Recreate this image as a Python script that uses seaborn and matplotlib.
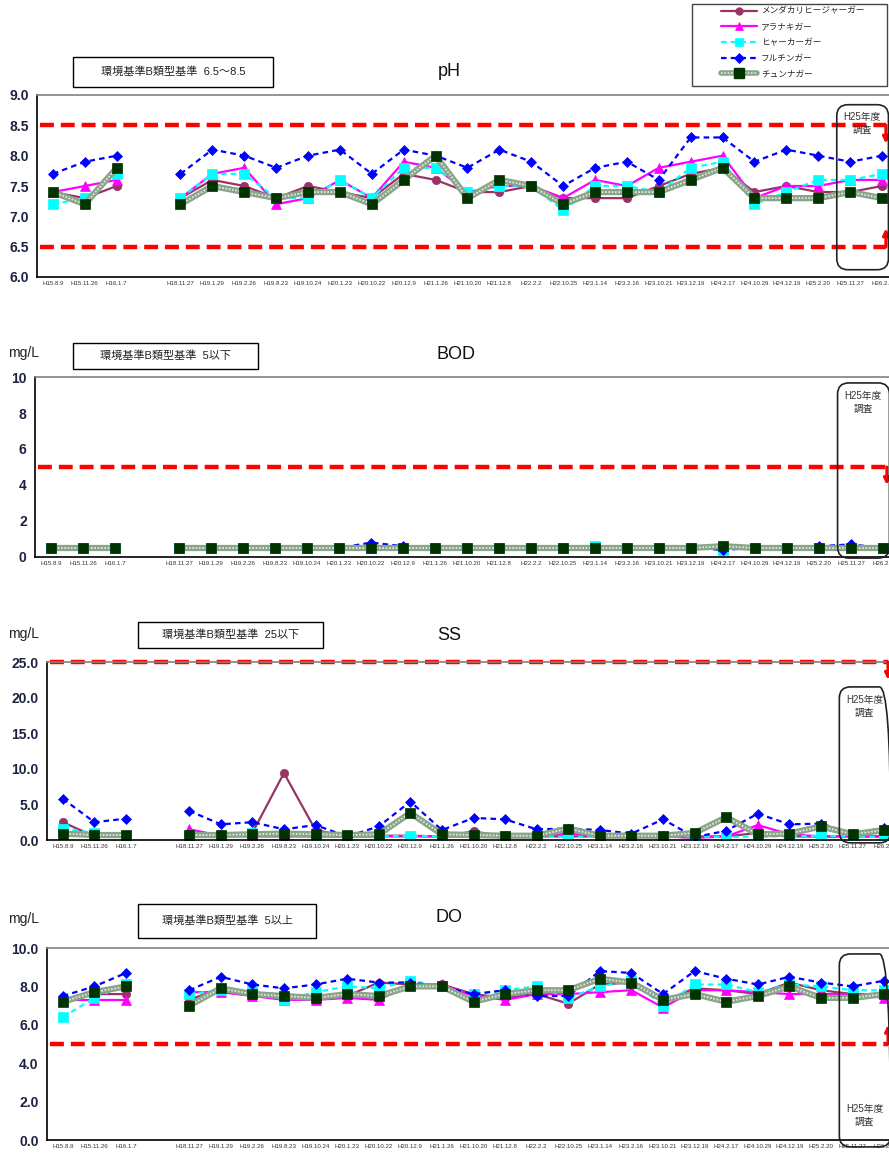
import numpy as np
import pandas as pd
import matplotlib
matplotlib.use("Agg")
import matplotlib.pyplot as plt
import matplotlib.transforms as mtransforms
from matplotlib.patches import Rectangle, FancyBboxPatch
from matplotlib.lines import Line2D
import seaborn as sns

sns.set_theme(style="white")
plt.rcParams["font.family"] = ["Liberation Sans", "Noto Sans CJK JP", "DejaVu Sans"]
plt.rcParams["lines.scale_dashes"] = False

# ---------------------------------------------------------------- data
DATES = ["H15.8.9", "H15.11.26", "H16.1.7", "",
         "H18.11.27", "H19.1.29", "H19.2.26", "H19.8.23", "H19.10.24",
         "H20.1.23", "H20.10.22", "H20.12.9", "H21.1.26", "H21.10.20",
         "H21.12.8", "H22.2.2", "H22.10.25", "H23.1.14", "H23.2.16",
         "H23.10.21", "H23.12.19", "H24.2.17", "H24.10.29", "H24.12.19",
         "H25.2.20", "H25.11.27", "H26.2.6"]

SITES = ["メンダカリヒージャーガー", "アラナキガー", "ヒャーカーガー", "フルチンガー", "チュンナガー"]

ph_mendakari = [7.4, 7.3, 7.5, None, 7.3, 7.6, 7.5, 7.3, 7.5, 7.4, 7.3, 7.7, 7.6, 7.4, 7.4, 7.5, 7.3, 7.3, 7.3, 7.5, 7.7, 7.8, 7.4, 7.5, 7.4, 7.4, 7.5]
ph_aranaki = [7.4, 7.5, 7.6, None, 7.3, 7.7, 7.8, 7.2, 7.3, 7.6, 7.3, 7.9, 7.8, 7.4, 7.5, 7.5, 7.3, 7.6, 7.5, 7.8, 7.9, 8.0, 7.3, 7.5, 7.5, 7.6, 7.6]
ph_hyaka = [7.2, 7.3, 7.7, None, 7.3, 7.7, 7.7, 7.3, 7.3, 7.6, 7.3, 7.8, 7.8, 7.4, 7.5, 7.5, 7.1, 7.5, 7.5, 7.4, 7.8, 7.9, 7.2, 7.4, 7.6, 7.6, 7.7]
ph_fulchin = [7.7, 7.9, 8.0, None, 7.7, 8.1, 8.0, 7.8, 8.0, 8.1, 7.7, 8.1, 8.0, 7.8, 8.1, 7.9, 7.5, 7.8, 7.9, 7.6, 8.3, 8.3, 7.9, 8.1, 8.0, 7.9, 8.0]
ph_chunnaga = [7.4, 7.2, 7.8, None, 7.2, 7.5, 7.4, 7.3, 7.4, 7.4, 7.2, 7.6, 8.0, 7.3, 7.6, 7.5, 7.2, 7.4, 7.4, 7.4, 7.6, 7.8, 7.3, 7.3, 7.3, 7.4, 7.3]

bod_mendakari = [0.5, 0.5, 0.5, None, 0.5, 0.5, 0.5, 0.5, 0.5, 0.5, 0.5, 0.5, 0.5, 0.5, 0.5, 0.5, 0.5, 0.5, 0.5, 0.5, 0.5, 0.5, 0.5, 0.5, 0.5, 0.5, 0.5]
bod_aranaki = [0.5, 0.5, 0.5, None, 0.5, 0.5, 0.5, 0.5, 0.5, 0.5, 0.5, 0.5, 0.5, 0.5, 0.5, 0.5, 0.5, 0.5, 0.5, 0.5, 0.5, 0.5, 0.5, 0.5, 0.5, 0.5, 0.5]
bod_hyaka = [0.5, 0.5, 0.5, None, 0.5, 0.5, 0.5, 0.5, 0.5, 0.5, 0.5, 0.5, 0.5, 0.5, 0.5, 0.5, 0.5, 0.6, 0.5, 0.5, 0.5, 0.4, 0.5, 0.5, 0.5, 0.5, 0.5]
bod_fulchin = [0.5, 0.5, 0.5, None, 0.5, 0.5, 0.5, 0.5, 0.5, 0.5, 0.8, 0.6, 0.5, 0.5, 0.5, 0.5, 0.5, 0.5, 0.5, 0.5, 0.5, 0.4, 0.5, 0.5, 0.6, 0.7, 0.5]
bod_chunnaga = [0.5, 0.5, 0.5, None, 0.5, 0.5, 0.5, 0.5, 0.5, 0.5, 0.5, 0.5, 0.5, 0.5, 0.5, 0.5, 0.5, 0.5, 0.5, 0.5, 0.5, 0.6, 0.5, 0.5, 0.5, 0.5, 0.5]

ss_mendakari = [2.5, 0.5, 0.5, None, 0.8, 0.8, 1.0, 9.4, 1.4, 0.5, 0.6, 0.6, 0.5, 1.2, 0.5, 0.5, 0.5, 0.5, 0.5, 0.5, 0.5, 0.5, 1.0, 0.5, 0.5, 0.5, 0.5]
ss_aranaki = [0.8, 0.5, 0.5, None, 1.5, 0.6, 0.5, 0.5, 0.5, 0.5, 0.5, 0.5, 0.5, 0.5, 0.5, 0.5, 0.9, 0.5, 0.5, 0.5, 0.3, 0.5, 2.1, 0.8, 0.5, 0.5, 0.5]
ss_hyaka = [1.6, 1.0, 0.5, None, 0.5, 0.5, 1.0, 0.9, 0.5, 0.5, 0.5, 0.6, 0.5, 0.5, 0.5, 0.5, 0.4, 0.5, 0.5, 0.5, 0.5, 0.4, 0.5, 0.5, 0.6, 0.5, 0.4]
ss_fulchin = [5.8, 2.5, 3.0, None, 4.1, 2.2, 2.5, 1.5, 2.1, 0.5, 1.9, 5.4, 1.4, 3.1, 2.9, 1.5, 1.6, 1.4, 0.9, 2.9, 0.4, 1.3, 3.7, 2.2, 2.3, 0.9, 1.7]
ss_chunnaga = [0.9, 0.7, 0.7, None, 0.7, 0.7, 0.8, 0.9, 0.8, 0.7, 0.8, 3.8, 0.8, 0.7, 0.6, 0.6, 1.6, 0.6, 0.6, 0.6, 1.0, 3.2, 0.8, 0.9, 1.9, 0.8, 1.4]

do_mendakari = [7.3, 7.6, 7.6, None, 7.3, 7.9, 7.5, 7.4, 7.4, 7.5, 8.2, 8.1, 8.1, 7.6, 7.4, 7.6, 7.1, 8.1, 8.2, 7.2, 7.9, 7.8, 7.6, 8.2, 7.8, 7.6, 7.6]
do_aranaki = [7.3, 7.3, 7.3, None, 7.7, 7.7, 7.5, 7.3, 7.3, 7.4, 7.3, 8.1, 8.1, 7.5, 7.3, 7.6, 7.6, 7.7, 7.8, 6.9, 7.8, 7.8, 7.7, 7.6, 7.6, 7.6, 7.4]
do_hyaka = [6.4, 7.4, 8.1, None, 7.6, 7.8, 7.8, 7.3, 7.7, 8.0, 7.9, 8.3, 8.0, 7.6, 7.8, 8.0, 7.4, 8.0, 8.3, 7.0, 8.1, 8.1, 7.7, 8.1, 8.0, 7.8, 7.8]
do_fulchin = [7.5, 8.0, 8.7, None, 7.8, 8.5, 8.1, 7.9, 8.1, 8.4, 8.2, 8.2, 8.0, 7.6, 7.8, 7.5, 7.5, 8.8, 8.7, 7.6, 8.8, 8.4, 8.1, 8.5, 8.2, 8.0, 8.3]
do_chunnaga = [7.2, 7.7, 8.0, None, 7.0, 7.9, 7.6, 7.5, 7.4, 7.6, 7.5, 8.0, 8.0, 7.2, 7.6, 7.8, 7.8, 8.4, 8.2, 7.3, 7.6, 7.2, 7.5, 8.0, 7.4, 7.4, 7.6]

# ---------------------------------------------------------------- styles
W, H = 889, 1155
TICK_COLOR = "#1c2340"
GREEN_BASE = "#8aa48a"
GREEN_HATCH = "#e2eae2"
GREEN_MARK = "#003300"

LINE_STYLES = {
    SITES[0]: dict(color="#993366", marker="o", markersize=6, linestyle="-", linewidth=1.6),
    SITES[1]: dict(color="#FF00FF", marker="^", markersize=6.5, linestyle="-", linewidth=1.6),
    SITES[2]: dict(color="#00FFFF", marker="s", markersize=6.5, linestyle=(0, (4, 3)), linewidth=1.6),
    SITES[3]: dict(color="#0000FF", marker="D", markersize=5.5, linestyle=(0, (4, 3)), linewidth=1.6),
}

fig = plt.figure(figsize=(W / 100, H / 100), dpi=100)


def fpos(x, y):
    return x / W, 1 - y / H


def add_axes_px(left, top, right, bottom):
    return fig.add_axes([left / W, 1 - bottom / H, (right - left) / W, (bottom - top) / H])


def series_frame(vals):
    rows, seg = [], 0
    for i, v in enumerate(vals):
        if v is None:
            seg += 1
            continue
        rows.append((i, v, seg))
    return pd.DataFrame(rows, columns=["pos", "val", "seg"])


def draw_site(ax, name, vals):
    df = series_frame(vals)
    common = dict(data=df, x="pos", y="val", units="seg", estimator=None,
                  sort=False, ax=ax, legend=False)
    if name in LINE_STYLES:
        st = LINE_STYLES[name]
        sns.lineplot(markeredgecolor=st["color"], markeredgewidth=0.5, **st, **common)
    else:
        sns.lineplot(color=GREEN_BASE, linewidth=4.5, **common)
        sns.lineplot(color=GREEN_HATCH, linewidth=1.3, linestyle=(0, (1.2, 1.2)), **common)
        sns.lineplot(color=GREEN_MARK, marker="s", markersize=7.5, linestyle="none",
                     markeredgecolor=GREEN_MARK, markeredgewidth=0.5, **common)


def standard_box(x0, y0, x1, y1, text):
    fig.patches.append(Rectangle(fpos(x0, y1), (x1 - x0) / W, (y1 - y0) / H,
                                 transform=fig.transFigure, fill=True, facecolor="white",
                                 edgecolor="black", linewidth=1.0))
    fig.text(*fpos((x0 + x1) / 2, (y0 + y1) / 2), text, ha="center", va="center",
             fontsize=8, color="#222222")


PANELS = [
    dict(name="pH", data=[ph_mendakari, ph_aranaki, ph_hyaka, ph_fulchin, ph_chunnaga],
         rect=(37, 95, 898, 277), ylim=(6.0, 9.0), yticks=np.arange(6.0, 9.01, 0.5), fmt="{:.1f}",
         limits=[(8.5, -0.3), (6.5, 0.3)], std=(73, 57, 273, 87, "環境基準B類型基準  6.5～8.5"),
         title=(449, 72), unit=None, box=(6.12, 8.84), h25=8.72),
    dict(name="BOD", data=[bod_mendakari, bod_aranaki, bod_hyaka, bod_fulchin, bod_chunnaga],
         rect=(35, 377, 899, 557), ylim=(0, 10), yticks=np.arange(0, 11, 2), fmt="{:.0f}",
         limits=[(5.0, -1.0)], std=(73, 343, 258, 369, "環境基準B類型基準  5以下"),
         title=(456, 355), unit=(24, 353), box=(-0.06, 9.67), h25=9.2),
    dict(name="SS", data=[ss_mendakari, ss_aranaki, ss_hyaka, ss_fulchin, ss_chunnaga],
         rect=(47, 662, 900, 840), ylim=(0, 25), yticks=np.arange(0, 25.1, 5), fmt="{:.1f}",
         limits=[(25.0, -2.5)], std=(138, 622, 323, 648, "環境基準B類型基準  25以下"),
         title=(449, 635), unit=(24, 634), box=(-0.4, 21.5), h25=20.3),
    dict(name="DO", data=[do_mendakari, do_aranaki, do_hyaka, do_fulchin, do_chunnaga],
         rect=(47, 948, 900, 1140), ylim=(0, 10), yticks=np.arange(0, 10.1, 2), fmt="{:.1f}",
         limits=[(5.0, 1.0)], std=(138, 904, 316, 938, "環境基準B類型基準  5以上"),
         title=(449, 918), unit=(24, 919), box=(-0.36, 9.69), h25=1.85),
]

for p in PANELS:
    ax = add_axes_px(*p["rect"])
    ax.set_xlim(-0.5, 26.5)
    ax.set_ylim(*p["ylim"])

    # environmental standard limits with turn arrows at the right edge
    for y, dy in p["limits"]:
        ax.plot([-0.42, 26.12], [y, y], color="#FF0000", linewidth=3.2,
                linestyle=(0, (10, 5)), zorder=1, clip_on=False)
        ax.annotate("", xy=(26.12, y + dy), xytext=(26.12, y), annotation_clip=False,
                    arrowprops=dict(arrowstyle="-|>", color="#FF0000", lw=2.2,
                                    mutation_scale=9, shrinkA=0, shrinkB=0))

    for name, vals in zip(SITES, p["data"]):
        draw_site(ax, name, vals)

    # H25 survey frame around the last two sampling dates
    bb = ax.get_window_extent()
    trans = mtransforms.blended_transform_factory(ax.transData, ax.transAxes)
    y0 = (p["box"][0] - p["ylim"][0]) / (p["ylim"][1] - p["ylim"][0])
    y1 = (p["box"][1] - p["ylim"][0]) / (p["ylim"][1] - p["ylim"][0])
    xpx = bb.width / 27.0
    frame = FancyBboxPatch((24.58, y0), 1.62, y1 - y0,
                           boxstyle="round,pad=0,rounding_size=0.35",
                           mutation_aspect=xpx / bb.height, transform=trans,
                           facecolor="none", edgecolor="#222222", linewidth=1.2,
                           clip_on=False, zorder=6)
    ax.add_patch(frame)
    ax.text(25.38, p["h25"], "H25年度\n調査", ha="center", va="top", fontsize=7,
            color="#333333", linespacing=1.35, zorder=7)

    ax.set_xticks(range(len(DATES)))
    ax.set_xticklabels(DATES, fontsize=4.4, color="#333333")
    ax.set_xticks(np.arange(-0.5, 27, 1), minor=True)
    ax.tick_params(axis="x", which="major", length=0, pad=3)
    ax.tick_params(axis="x", which="minor", length=3, direction="in", width=0.8, color="black")
    ax.set_yticks(p["yticks"])
    ax.set_yticklabels([p["fmt"].format(v) for v in p["yticks"]], fontsize=10,
                       fontweight="bold", color=TICK_COLOR)
    ax.tick_params(axis="y", length=3, direction="in", width=0.8, pad=6, color="black")
    ax.set_xlabel("")
    ax.set_ylabel("")
    for side in ["left", "bottom"]:
        ax.spines[side].set_color("black")
        ax.spines[side].set_linewidth(1.2)
    for side in ["top", "right"]:
        ax.spines[side].set_color("#808080")
        ax.spines[side].set_linewidth(1.2)

    standard_box(*p["std"])
    fig.text(*fpos(*p["title"]), p["name"], ha="center", va="center", fontsize=13, color="#111111")
    if p["unit"]:
        fig.text(*fpos(*p["unit"]), "mg/L", ha="center", va="center", fontsize=10, color="#222222")

# legend
fig.patches.append(Rectangle(fpos(692, 86), 195 / W, 82 / H, transform=fig.transFigure,
                             facecolor="white", edgecolor="#444444", linewidth=1.0, zorder=0))
handles = []
for name in SITES:
    if name in LINE_STYLES:
        st = LINE_STYLES[name]
        handles.append(Line2D([], [], markeredgecolor=st["color"], markeredgewidth=0.5,
                              **{k: (v * 0.9 if k == "markersize" else v) for k, v in st.items()}))
    else:
        handles.append((Line2D([], [], color=GREEN_BASE, linewidth=4.0),
                        Line2D([], [], color=GREEN_HATCH, linewidth=1.2, linestyle=(0, (1.2, 1.2))),
                        Line2D([], [], color=GREEN_MARK, marker="s", markersize=6.5, linestyle="none")))
fig.legend(handles, SITES, loc="upper left", bbox_to_anchor=fpos(718, 4), frameon=False,
           fontsize=6.2, handlelength=4.2, handletextpad=0.5, labelspacing=0.78,
           borderpad=0.3, borderaxespad=0)

fig.savefig("out.png", dpi=100)
